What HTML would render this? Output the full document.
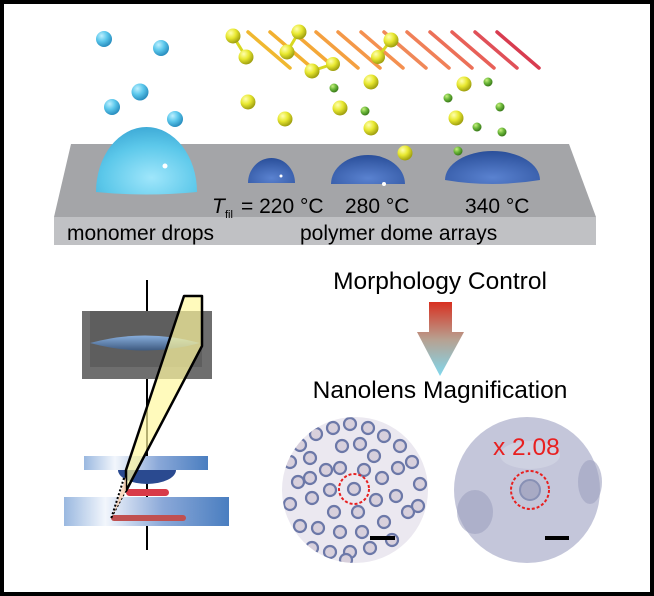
<!DOCTYPE html>
<html><head><meta charset="utf-8"><style>
html,body{margin:0;padding:0;background:#fff}
svg{display:block}
text{font-family:"Liberation Sans",Arial,sans-serif}
</style></head><body>
<svg width="654" height="596" viewBox="0 0 654 596" xmlns="http://www.w3.org/2000/svg">
<defs>
<radialGradient id="cy" cx="35%" cy="30%" r="70%"><stop offset="0" stop-color="#bff0ff"/><stop offset="0.5" stop-color="#5cc8ec"/><stop offset="1" stop-color="#2a8fc0"/></radialGradient>
<radialGradient id="ye" cx="35%" cy="30%" r="70%"><stop offset="0" stop-color="#ffffb0"/><stop offset="0.5" stop-color="#e8e830"/><stop offset="1" stop-color="#a0a010"/></radialGradient>
<radialGradient id="gr" cx="35%" cy="30%" r="70%"><stop offset="0" stop-color="#c8f080"/><stop offset="0.5" stop-color="#6cb83a"/><stop offset="1" stop-color="#3a7a1a"/></radialGradient>
<radialGradient id="bd" cx="50%" cy="80%" r="80%"><stop offset="0" stop-color="#5a82d0"/><stop offset="1" stop-color="#2a4f9a"/></radialGradient>
<radialGradient id="cd" cx="55%" cy="75%" r="80%"><stop offset="0" stop-color="#9fe6fb"/><stop offset="0.6" stop-color="#5cc8ea"/><stop offset="1" stop-color="#3aa6d4"/></radialGradient>
<linearGradient id="arr" gradientUnits="userSpaceOnUse" x1="0" y1="302" x2="0" y2="376"><stop offset="0" stop-color="#d83020"/><stop offset="0.5" stop-color="#b8a090"/><stop offset="1" stop-color="#80d8ee"/></linearGradient>
<linearGradient id="slab" x1="0" y1="0" x2="1" y2="0"><stop offset="0" stop-color="#9ab8e0"/><stop offset="0.25" stop-color="#f2f6fc"/><stop offset="0.6" stop-color="#8aa8d8"/><stop offset="1" stop-color="#4a7ec0"/></linearGradient>
<linearGradient id="lens" x1="0" y1="0" x2="0" y2="1"><stop offset="0" stop-color="#88aedc"/><stop offset="1" stop-color="#3e5a80"/></linearGradient>
<clipPath id="cl1"><circle cx="355" cy="490" r="73"/></clipPath>
</defs>
<rect x="2" y="2" width="650" height="592" fill="#fff" stroke="#000" stroke-width="4"/>

<polygon points="71,144 569,144 596,217 54,217" fill="#a4a5a8"/>
<rect x="54" y="217" width="542" height="28" fill="#c0c1c4"/>
<path d="M96,192 A50.5,65 0 0 1 197,192 Q146,197 96,192 Z" fill="url(#cd)"/>
<circle cx="165" cy="166" r="2.5" fill="#fff"/>
<path d="M248,183 A23.5,25 0 0 1 295,183 Z" fill="url(#bd)"/>
<circle cx="281" cy="176" r="1.5" fill="#fff"/>
<path d="M331,184 A37,29 0 0 1 405,184 Z" fill="url(#bd)"/>
<circle cx="384" cy="184" r="2" fill="#fff"/>
<path d="M445,180 A47.5,29 0 0 1 540,180 Q492,188 445,180 Z" fill="url(#bd)"/>

<g stroke-width="3.5" stroke-linecap="round">
<line x1="248" y1="32" x2="290" y2="68" stroke="#f0b830"/>
<line x1="270" y1="32" x2="312" y2="68" stroke="#f2b030"/>
<line x1="293" y1="32" x2="335" y2="68" stroke="#f4a838"/>
<line x1="316" y1="32" x2="358" y2="68" stroke="#f4a040"/>
<line x1="338" y1="32" x2="380" y2="68" stroke="#f49848"/>
<line x1="361" y1="32" x2="403" y2="68" stroke="#f49050"/>
<line x1="384" y1="32" x2="426" y2="68" stroke="#f08858"/>
<line x1="407" y1="32" x2="449" y2="68" stroke="#f08058"/>
<line x1="430" y1="32" x2="472" y2="68" stroke="#ec7058"/>
<line x1="452" y1="32" x2="494" y2="68" stroke="#e86058"/>
<line x1="475" y1="32" x2="517" y2="68" stroke="#e05058"/>
<line x1="497" y1="32" x2="539" y2="68" stroke="#d83c50"/>
</g>
<g stroke="#d8d820" stroke-width="3">
<line x1="233" y1="36" x2="246" y2="57"/><line x1="299" y1="32" x2="287" y2="52"/><line x1="312" y1="71" x2="333" y2="64"/><line x1="391" y1="40" x2="378" y2="57"/>
</g>
<g fill="url(#cy)">
<circle cx="104" cy="39" r="8"/><circle cx="161" cy="48" r="8"/><circle cx="140" cy="92" r="8.5"/><circle cx="112" cy="107" r="8"/><circle cx="175" cy="119" r="8"/>
</g>
<g fill="url(#ye)">
<circle cx="233" cy="36" r="7.5"/><circle cx="246" cy="57" r="7.5"/><circle cx="299" cy="32" r="7.5"/><circle cx="287" cy="52" r="7.5"/><circle cx="312" cy="71" r="7.5"/><circle cx="333" cy="64" r="7"/><circle cx="391" cy="40" r="7.5"/><circle cx="378" cy="57" r="7"/>
<circle cx="248" cy="102" r="7.5"/><circle cx="285" cy="119" r="7.5"/><circle cx="340" cy="108" r="7.5"/><circle cx="371" cy="82" r="7.5"/><circle cx="371" cy="128" r="7.5"/><circle cx="405" cy="153" r="7.5"/><circle cx="464" cy="84" r="7.5"/><circle cx="456" cy="118" r="7.5"/>
</g>
<g fill="url(#gr)">
<circle cx="334" cy="88" r="4.5"/><circle cx="365" cy="111" r="4.5"/><circle cx="448" cy="98" r="4.5"/><circle cx="488" cy="82" r="4.5"/><circle cx="500" cy="107" r="4.5"/><circle cx="477" cy="127" r="4.5"/><circle cx="502" cy="132" r="4.5"/><circle cx="458" cy="151" r="4.5"/>
</g>
<text x="212" y="213" font-size="21" font-style="italic">T</text>
<text x="225" y="218" font-size="11">fil</text>
<text x="241" y="213" font-size="21">= 220 °C</text>
<text x="345" y="213" font-size="21">280 °C</text>
<text x="465" y="213" font-size="21">340 °C</text>
<text x="67" y="240" font-size="21">monomer drops</text>
<text x="300" y="240" font-size="21">polymer dome arrays</text>

<line x1="147" y1="280" x2="147" y2="550" stroke="#000" stroke-width="2"/>
<rect x="82" y="311" width="130" height="68" fill="#6e6e6e"/>
<rect x="90" y="311" width="112" height="56" fill="#5e5e5e"/>
<path d="M90,343 Q145,328 200,343 Q145,358 90,343 Z" fill="url(#lens)"/>
<rect x="84" y="456" width="124" height="14" fill="url(#slab)"/>
<path d="M118,470 A29,14 0 0 0 176,470 Z" fill="#2a4a90"/>
<rect x="126" y="489" width="43" height="7" rx="3.5" fill="#d83a48"/>
<rect x="64" y="497" width="165" height="29" fill="url(#slab)"/>
<rect x="111" y="515" width="75" height="6" rx="3" fill="#c05050"/>
<polygon points="184,296 202,296 202,346 126,491 126,470" fill="#fff8a0" fill-opacity="0.7" stroke="#000" stroke-width="2.5" stroke-linejoin="round"/>
<polygon points="126,477 126,491 111,519" fill="#f6d0b0" opacity="0.8"/>
<line x1="124" y1="478" x2="111" y2="519" stroke="#000" stroke-width="2" stroke-dasharray="2,2"/>
<line x1="126" y1="491" x2="111" y2="519" stroke="#000" stroke-width="1" stroke-dasharray="2,2"/>

<text x="440" y="289" font-size="24.5" text-anchor="middle">Morphology Control</text>
<rect x="429" y="302" width="23" height="32" fill="url(#arr)"/>
<polygon points="417,332 464,332 440,376" fill="url(#arr)"/>
<text x="440" y="398" font-size="24.5" text-anchor="middle">Nanolens Magnification</text>

<circle cx="355" cy="490" r="73" fill="#ebe8f0"/>
<g clip-path="url(#cl1)" fill="#d8d0dc" stroke="#6c78a8" stroke-width="2.2">
<circle cx="300" cy="445" r="6"/><circle cx="316" cy="434" r="6"/><circle cx="333" cy="428" r="6"/><circle cx="350" cy="424" r="6"/><circle cx="368" cy="428" r="6"/><circle cx="384" cy="436" r="6"/><circle cx="400" cy="446" r="6"/><circle cx="342" cy="446" r="6"/><circle cx="360" cy="444" r="6"/><circle cx="374" cy="456" r="6"/><circle cx="412" cy="462" r="6"/><circle cx="290" cy="462" r="6"/><circle cx="310" cy="458" r="6"/><circle cx="326" cy="470" r="6"/><circle cx="298" cy="482" r="6"/><circle cx="354" cy="489" r="6"/><circle cx="340" cy="468" r="6"/><circle cx="382" cy="478" r="6"/><circle cx="398" cy="468" r="6"/><circle cx="420" cy="484" r="6"/><circle cx="290" cy="504" r="6"/><circle cx="312" cy="498" r="6"/><circle cx="330" cy="490" r="6"/><circle cx="334" cy="512" r="6"/><circle cx="358" cy="512" r="6"/><circle cx="376" cy="500" r="6"/><circle cx="396" cy="496" r="6"/><circle cx="408" cy="512" r="6"/><circle cx="300" cy="526" r="6"/><circle cx="318" cy="528" r="6"/><circle cx="340" cy="532" r="6"/><circle cx="362" cy="532" r="6"/><circle cx="384" cy="522" r="6"/><circle cx="312" cy="548" r="6"/><circle cx="330" cy="552" r="6"/><circle cx="350" cy="552" r="6"/><circle cx="370" cy="548" r="6"/><circle cx="392" cy="540" r="6"/><circle cx="364" cy="470" r="6"/><circle cx="418" cy="506" r="6"/><circle cx="310" cy="478" r="6"/><circle cx="346" cy="560" r="6"/>
</g>
<circle cx="354" cy="489" r="15" fill="none" stroke="#e82020" stroke-width="2" stroke-dasharray="3,2"/>
<rect x="370" y="536" width="25" height="4" fill="#000"/>

<circle cx="527" cy="490" r="73" fill="#c4c6da"/>
<ellipse cx="475" cy="512" rx="18" ry="22" fill="#9ea2c0" opacity="0.6"/>
<ellipse cx="590" cy="482" rx="12" ry="22" fill="#9ea2c0" opacity="0.6"/>
<ellipse cx="530" cy="455" rx="30" ry="14" fill="#d6d8e6" opacity="0.6"/>
<circle cx="530" cy="490" r="10" fill="#a8aac4" stroke="#8890b4" stroke-width="2"/>
<circle cx="530" cy="490" r="19" fill="none" stroke="#e82020" stroke-width="2" stroke-dasharray="3,2"/>
<text x="493" y="455" font-size="24.5" fill="#e82020">x 2.08</text>
<rect x="545" y="536" width="24" height="4" fill="#000"/>
</svg>
</body></html>
